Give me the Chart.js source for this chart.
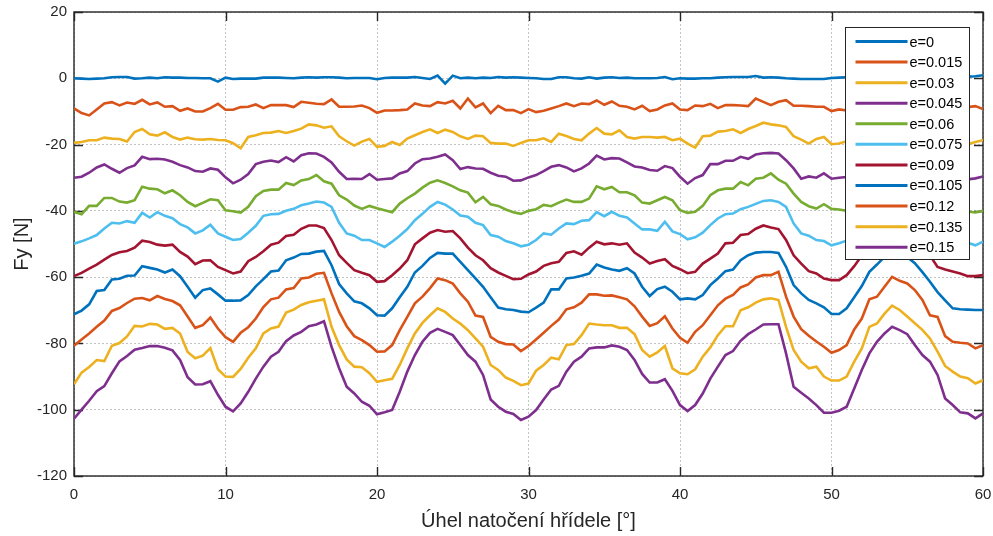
<!DOCTYPE html>
<html>
<head>
<meta charset="utf-8">
<script src="https://cdn.jsdelivr.net/npm/chart.js@4.4.1/dist/chart.umd.min.js"></script>
<style>
html, body { margin: 0; padding: 0; background: #fff; }
</style>
</head>
<body>
<canvas id="fyChart" width="993" height="536"></canvas>
<script>
// shaft angle [deg], one sample every 0.5 deg
var angles = [0,0.5,1,1.5,2,2.5,3,3.5,4,4.5,5,5.5,6,6.5,7,7.5,8,8.5,9,9.5,10,10.5,11,11.5,12,12.5,13,13.5,14,14.5,15,15.5,
  16,16.5,17,17.5,18,18.5,19,19.5,20,20.5,21,21.5,22,22.5,23,23.5,24,24.5,25,25.5,26,26.5,27,27.5,28,28.5,29,29.5,30,
  30.5,31,31.5,32,32.5,33,33.5,34,34.5,35,35.5,36,36.5,37,37.5,38,38.5,39,39.5,40,40.5,41,41.5,42,42.5,43,43.5,44,44.5,45,45.5,
  46,46.5,47,47.5,48,48.5,49,49.5,50,50.5,51,51.5,52,52.5,53,53.5,54,54.5,55,55.5,56,56.5,57,57.5,58,58.5,59,59.5,60];

var fy_e0 = [0,-0.1,-0.2,-0.1,0,0.3,0.4,0.4,-0.1,0,0.2,0,0.3,0.2,0.2,0.1,0.1,0,0,-1.0,0.2,-0.2,-0.1,-0.1,-0.1,0.2,0.2,0.2,0.1,0,0.2,0.3,
  0.2,0.3,0.3,0.2,0,0.1,0.1,0.1,-0.3,0.1,0.2,0.2,0.2,0.4,0.1,-0.2,0.8,-1.6,0.8,0,0.2,0,0.2,0.1,0.4,0.2,0.3,0.2,0.1,
  0,-0.2,-0.2,0.3,0.3,0,-0.1,0.3,-0.1,0.2,0.3,0.1,0.2,0,0,0,0.1,0.4,-0.3,0,-0.1,-0.1,0,0,0.2,0.3,0.4,0.4,0.4,0.7,0.2,
  0.3,0.2,0,-0.1,-0.2,-0.2,-0.2,-0.2,0.1,0.2,0.3,0.2,0.3,0.5,0.2,0,0.6,0.4,0.7,0.2,0.3,0.2,0.3,0.2,0.4,0.3,0.5,0.6,0.9];
var fy_e015 = [-9.1,-10.5,-11.2,-9.4,-7.6,-7.2,-8.2,-7.3,-7.7,-6.5,-7.9,-7.3,-8.6,-8.4,-9.8,-9.1,-10.0,-10.0,-9.0,-7.7,-9.5,-9.5,-8.7,-8.6,-7.9,-9.0,-8.1,-8.1,-8.1,-8.7,-7.1,-7.4,
  -7.7,-7.8,-6.4,-8.6,-8.6,-8.5,-8.2,-9.0,-10.4,-9.7,-9.7,-9.6,-9.4,-7.6,-8.2,-8.4,-7.2,-7.6,-6.8,-9.1,-6.1,-8.8,-7.6,-10.5,-8.3,-9.6,-9.6,-10.5,-9.3,
  -10.2,-9.8,-9.1,-8.4,-7.6,-8.4,-7.6,-7.8,-6.7,-8.0,-7.0,-8.3,-8.6,-9.4,-8.3,-9.9,-9.4,-8.2,-7.6,-9.4,-9.6,-8.2,-8.4,-7.7,-9.0,-8.1,-8.1,-8.2,-8.4,-6.1,-7.1,
  -8.1,-7.1,-6.6,-8.3,-8.3,-8.4,-8.6,-8.6,-9.9,-9.4,-9.7,-9.5,-9.2,-8.0,-8.3,-8.1,-7.5,-7.9,-7.2,-8.6,-7.0,-8.5,-8.0,-9.4,-8.6,-9.2,-8.7,-8.4,-9.3];
var fy_e03 = [-19.5,-19.2,-18.7,-18.7,-17.9,-18.2,-18.3,-19.1,-16.2,-15.3,-16.9,-17.3,-16.3,-17.7,-18.5,-17.9,-18.4,-18.5,-18.3,-18.6,-18.7,-19.6,-21.1,-17.7,-17.2,-16.5,-16.4,-15.9,-16.5,-15.9,-15.2,-13.9,
  -14.2,-14.9,-14.5,-17.5,-19.0,-20.3,-19.1,-18.3,-20.7,-20.4,-19.2,-20.1,-18.2,-17.2,-16.2,-15.4,-16.5,-15.5,-16.2,-17.5,-18.3,-17.3,-17.5,-19.5,-19.7,-19.7,-20.4,-19.5,-18.7,
  -18.7,-18.1,-19.2,-16.7,-17.4,-18.3,-18.7,-16.7,-15.0,-16.7,-16.9,-15.7,-17.7,-18.2,-17.7,-17.7,-17.9,-17.7,-18.7,-18.2,-19.7,-20.9,-17.5,-17.3,-16.1,-15.9,-15.4,-16.5,-15.3,-14.4,-13.4,
  -13.9,-14.2,-14.7,-17.5,-18.5,-19.7,-18.3,-17.7,-19.9,-19.7,-19.0,-19.6,-18.5,-17.6,-16.5,-15.6,-16.2,-15.8,-16.4,-17.2,-18.0,-17.5,-17.8,-19.2,-19.5,-19.8,-19.9,-19.2,-18.7];
var fy_e045 = [-30.0,-29.7,-28.5,-26.9,-26.0,-27.3,-28.5,-27.1,-26.3,-23.7,-24.4,-24.3,-24.5,-25.2,-26.2,-26.9,-28.0,-28.2,-27.2,-27.6,-29.9,-31.7,-30.6,-28.9,-25.9,-25.2,-24.8,-25.3,-23.8,-25.1,-23.2,-22.6,
  -22.7,-23.7,-25.4,-28.2,-30.4,-30.3,-30.4,-28.9,-30.6,-30.4,-30.2,-28.7,-28.0,-25.7,-24.4,-24.2,-23.7,-23.0,-24.7,-27.4,-26.8,-27.2,-27.3,-28.5,-29.4,-29.7,-30.9,-30.8,-29.9,
  -29.2,-28.0,-26.7,-26.2,-26.9,-28.1,-27.2,-25.7,-23.3,-24.5,-24.1,-24.2,-25.4,-26.6,-26.9,-27.7,-27.9,-26.5,-27.1,-29.7,-31.8,-30.1,-29.2,-25.9,-25.9,-24.9,-24.9,-23.7,-24.3,-23.0,-22.6,
  -22.5,-22.7,-24.7,-27.2,-30.3,-29.6,-30.0,-28.7,-30.3,-30.0,-29.8,-28.9,-28.2,-26.0,-24.6,-24.0,-23.5,-23.2,-24.9,-27.0,-27.0,-27.4,-27.6,-28.6,-29.2,-29.8,-30.5,-30.2,-29.6];
var fy_e06 = [-40.3,-41.0,-38.5,-38.5,-36.1,-36.1,-37.2,-37.5,-36.8,-32.7,-33.3,-33.5,-34.7,-33.8,-35.3,-37.3,-38.6,-37.6,-36.5,-36.8,-39.8,-40.1,-40.5,-38.8,-35.6,-34.0,-33.6,-33.6,-31.6,-32.2,-30.8,-30.4,
  -29.2,-31.1,-31.8,-35.3,-36.6,-38.4,-39.4,-38.5,-39.2,-39.8,-40.4,-37.8,-36.2,-34.8,-33.0,-31.5,-30.8,-31.6,-32.6,-33.8,-34.5,-37.4,-35.8,-38.0,-38.5,-39.6,-40.4,-40.9,-40.0,
  -39.5,-38.2,-38.6,-37.5,-36.6,-37.3,-37.3,-36.3,-32.6,-33.5,-32.8,-34.4,-34.4,-35.3,-37.5,-37.8,-36.8,-35.8,-36.8,-39.8,-40.6,-40.3,-38.5,-35.3,-33.8,-33.3,-33.3,-31.3,-32.3,-30.3,-30.0,
  -28.7,-30.6,-31.8,-34.8,-37.3,-38.6,-39.3,-38.0,-39.4,-39.6,-40.0,-38.0,-36.4,-35.0,-33.2,-31.8,-31.0,-31.8,-32.8,-33.9,-34.6,-36.8,-36.2,-38.0,-38.6,-39.5,-40.2,-40.5,-40.0];
var fy_e075 = [-49.9,-49.2,-48.3,-47.3,-45.3,-43.6,-43.8,-43.1,-43.6,-40.6,-42.0,-40.4,-41.5,-42.2,-44.0,-45.0,-46.8,-45.9,-44.2,-46.8,-47.8,-48.8,-48.5,-46.6,-44.5,-41.5,-41.0,-40.9,-40.0,-39.4,-38.3,-37.8,
  -37.2,-37.5,-38.8,-43.6,-46.8,-47.5,-48.8,-48.8,-49.8,-50.9,-49.3,-47.5,-45.5,-42.8,-40.9,-38.8,-37.3,-38.1,-39.6,-41.4,-41.8,-43.6,-44.3,-47.3,-47.8,-49.1,-49.8,-50.7,-50.2,
  -48.8,-46.8,-47.2,-45.3,-43.8,-44.0,-43.0,-42.8,-40.4,-41.6,-40.3,-41.5,-42.0,-43.8,-45.6,-45.6,-46.0,-43.3,-46.2,-47.0,-48.6,-48.0,-46.6,-44.3,-42.3,-41.0,-40.8,-39.5,-38.8,-37.9,-37.0,
  -36.8,-37.3,-38.8,-43.8,-46.8,-47.5,-48.8,-49.1,-50.4,-49.8,-49.0,-47.6,-45.4,-43.0,-41.0,-39.0,-37.6,-38.3,-39.8,-41.2,-42.0,-43.4,-44.5,-47.0,-47.9,-49.0,-49.6,-50.4,-49.3];
var fy_e09 = [-59.7,-58.7,-57.4,-56.2,-54.7,-53.3,-52.5,-52.1,-51.1,-49.0,-49.4,-50.2,-50.5,-50.2,-52.4,-53.8,-56.1,-55.0,-54.9,-56.9,-57.9,-58.9,-58.3,-55.2,-53.9,-52.2,-50.2,-49.6,-47.6,-47.2,-45.4,-44.4,
  -44.4,-45.2,-48.8,-53.4,-55.7,-57.9,-58.7,-59.4,-61.4,-61.2,-59.4,-57.4,-54.9,-50.1,-48.3,-46.6,-45.8,-46.3,-46.1,-48.3,-51.1,-53.4,-54.9,-57.3,-58.6,-59.6,-60.6,-60.5,-59.2,
  -58.3,-56.6,-55.8,-55.4,-52.7,-52.2,-53.2,-51.1,-49.3,-50.1,-49.8,-50.2,-49.8,-52.6,-54.1,-55.9,-55.1,-54.6,-56.6,-57.6,-58.8,-58.4,-55.9,-54.4,-52.9,-49.8,-49.6,-47.3,-47.0,-45.4,-44.4,
  -45.0,-45.5,-48.8,-53.4,-55.9,-58.2,-58.9,-60.4,-60.9,-60.9,-59.4,-56.7,-53.5,-50.0,-48.0,-46.8,-46.0,-46.4,-46.6,-48.5,-51.0,-53.5,-56.9,-57.7,-58.3,-58.9,-59.7,-59.7,-59.4];
var fy_e105 = [-71.2,-70.1,-68.2,-64.2,-63.9,-60.7,-60.5,-59.6,-59.5,-56.7,-57.2,-57.7,-58.6,-57.7,-59.7,-62.9,-66.2,-63.9,-63.4,-65.2,-67.1,-67.1,-67.0,-65.4,-62.8,-60.6,-58.3,-58.0,-54.9,-54.1,-53.0,-52.9,
  -52.3,-52.1,-56.4,-62.1,-64.9,-67.3,-67.9,-69.4,-71.5,-71.6,-69.4,-66.1,-62.9,-58.6,-56.6,-54.2,-52.7,-52.9,-52.9,-55.4,-57.9,-60.4,-62.9,-66.1,-69.2,-69.7,-69.9,-70.4,-70.6,
  -69.2,-67.7,-63.7,-63.7,-60.4,-60.1,-59.6,-58.9,-56.2,-57.1,-57.7,-58.1,-57.3,-58.9,-62.9,-65.7,-63.6,-62.9,-64.4,-66.7,-66.4,-66.7,-65.4,-62.4,-60.4,-58.2,-57.7,-54.9,-53.4,-52.6,-52.4,
  -52.4,-52.7,-56.9,-62.4,-64.9,-66.9,-67.9,-69.1,-71.1,-71.1,-69.4,-66.1,-62.7,-58.4,-56.2,-53.9,-52.1,-52.4,-53.9,-55.8,-58.5,-61.4,-64.5,-67.0,-69.4,-69.7,-69.8,-69.9,-69.9];
var fy_e12 = [-80.7,-78.8,-77.0,-75.0,-73.1,-70.2,-69.3,-67.8,-66.5,-66.3,-67.0,-65.7,-66.6,-67.2,-68.5,-71.9,-75.3,-74.5,-72.2,-75.5,-78.1,-79.5,-76.8,-75.1,-72.5,-69.0,-66.7,-66.2,-63.7,-63.3,-60.4,-60.1,
  -59.0,-58.7,-64.9,-70.5,-74.8,-77.8,-79.0,-80.5,-82.5,-82.4,-80.5,-76.0,-72.0,-67.9,-65.9,-63.3,-60.4,-60.9,-61.9,-64.9,-67.4,-71.6,-72.0,-78.0,-79.5,-80.2,-80.3,-82.3,-80.8,
  -78.8,-76.8,-74.7,-72.8,-69.7,-69.1,-67.7,-65.2,-65.2,-65.6,-65.5,-66.1,-66.7,-68.8,-71.9,-74.7,-73.9,-71.8,-75.5,-78.3,-79.8,-76.5,-74.5,-71.5,-68.5,-66.5,-65.4,-63.1,-62.2,-60.1,-59.4,
  -59.4,-58.4,-65.9,-71.9,-75.7,-77.7,-79.4,-81.0,-82.8,-82.0,-80.5,-75.8,-72.5,-66.7,-65.9,-62.9,-59.9,-61.1,-61.9,-63.9,-66.9,-71.5,-72.0,-77.8,-79.5,-79.8,-80.0,-81.5,-80.5];
var fy_e135 = [-92.3,-88.8,-87.1,-85.0,-85.3,-80.7,-79.9,-77.9,-74.7,-74.9,-74.1,-74.3,-75.6,-75.3,-77.0,-82.6,-84.5,-83.7,-81.4,-87.8,-90.0,-90.1,-87.7,-84.3,-81.5,-77.0,-75.5,-74.9,-70.7,-69.8,-68.4,-67.6,
  -67.1,-66.7,-75.0,-80.5,-84.8,-87.0,-87.2,-89.0,-91.6,-91.1,-90.7,-86.5,-81.5,-77.0,-73.8,-71.5,-69.4,-70.5,-72.5,-74.0,-76.0,-78.5,-81.0,-86.5,-88.0,-90.3,-91.3,-92.6,-92.1,
  -88.2,-86.5,-84.3,-84.8,-80.5,-80.2,-77.5,-74.0,-74.3,-74.5,-74.5,-75.3,-75.3,-77.2,-82.0,-84.0,-82.7,-80.8,-87.5,-89.0,-89.3,-87.8,-84.0,-81.2,-77.5,-74.8,-74.8,-70.0,-69.1,-67.7,-66.7,
  -66.4,-66.9,-75.0,-82.0,-85.5,-87.5,-87.0,-90.0,-91.2,-91.2,-90.0,-85.5,-81.5,-75.0,-74.0,-71.0,-68.6,-69.9,-71.9,-73.9,-75.9,-78.5,-82.5,-86.8,-88.5,-90.0,-90.5,-92.1,-91.1];
var fy_e15 = [-102.7,-100.0,-97.3,-94.4,-92.9,-89.0,-85.4,-83.8,-81.9,-81.4,-80.8,-80.8,-81.3,-82.1,-85.0,-90.2,-92.4,-92.3,-91.4,-95.5,-99.1,-100.5,-98.1,-94.6,-90.6,-87.0,-84.0,-82.5,-79.3,-77.6,-76.5,-74.8,
  -74.3,-73.3,-81.0,-87.5,-93.1,-95.1,-97.6,-98.8,-101.4,-100.8,-100.1,-94.6,-88.5,-83.5,-79.5,-76.8,-75.6,-76.5,-77.5,-80.5,-83.5,-85.5,-89.5,-96.9,-99.1,-100.6,-101.3,-103.1,-102.1,
  -100.1,-96.9,-93.9,-92.8,-88.5,-85.5,-84.0,-81.5,-81.2,-81.2,-80.6,-81.0,-82.0,-85.0,-89.2,-91.8,-91.8,-90.8,-94.3,-98.6,-100.4,-98.6,-95.1,-90.6,-87.0,-83.5,-82.3,-79.2,-77.2,-75.8,-74.3,
  -74.2,-74.2,-83.0,-93.1,-94.9,-96.6,-98.6,-100.9,-100.9,-100.3,-99.1,-93.6,-88.0,-83.0,-79.5,-77.0,-75.0,-76.0,-77.2,-80.5,-83.5,-85.5,-89.5,-96.6,-98.6,-100.8,-101.1,-102.6,-101.1];

var seriesLabels = ["e=0", "e=0.015", "e=0.03", "e=0.045", "e=0.06", "e=0.075", "e=0.09", "e=0.105", "e=0.12", "e=0.135", "e=0.15"];
var seriesValues = [fy_e0, fy_e015, fy_e03, fy_e045, fy_e06, fy_e075, fy_e09, fy_e105, fy_e12, fy_e135, fy_e15];
// matlab default color order, repeats after 7
var seriesColors = ["#0072BD", "#D95319", "#EDB120", "#7E2F8E", "#77AC30", "#4DBEEE", "#A2142F",
  "#0072BD", "#D95319", "#EDB120", "#7E2F8E"];

var fontFamily = '"Liberation Sans", Arial, Helvetica, sans-serif';
var axisColor = "#262626";

var datasets = [];
for (let i = 0; i < seriesValues.length; i++) {
  datasets.push({
    label: seriesLabels[i],
    data: seriesValues[i].map(function(v, j) { return { x: angles[j], y: v }; }),
    borderColor: seriesColors[i],
    backgroundColor: seriesColors[i],
    borderWidth: 2.6,
    pointRadius: 0,
    tension: 0,
    fill: false,
    order: seriesValues.length - i
  });
}

// box around axes with inward ticks on all four sides
var boxPlugin = {
  id: "matlabBox",
  beforeDatasetsDraw: function(chart) {
    var a = chart.chartArea, ctx = chart.ctx;
    var xs = chart.scales.x, ys = chart.scales.y;
    ctx.save();
    ctx.strokeStyle = axisColor;
    ctx.lineWidth = 1.4;
    ctx.beginPath();
    xs.ticks.forEach(function(t) {
      var px = Math.round(xs.getPixelForValue(t.value)) + 0.5;
      ctx.moveTo(px, a.bottom); ctx.lineTo(px, a.bottom - 9);
      ctx.moveTo(px, a.top); ctx.lineTo(px, a.top + 9);
    });
    ys.ticks.forEach(function(t) {
      var py = Math.round(ys.getPixelForValue(t.value)) + 0.5;
      ctx.moveTo(a.left, py); ctx.lineTo(a.left + 9, py);
      ctx.moveTo(a.right, py); ctx.lineTo(a.right - 9, py);
    });
    ctx.stroke();
    ctx.strokeRect(a.left, a.top, a.right - a.left, a.bottom - a.top);
    ctx.restore();
  }
};

// legend box in the upper right corner of the axes
var legendPlugin = {
  id: "innerLegend",
  afterDraw: function(chart) {
    var a = chart.chartArea, ctx = chart.ctx;
    var sets = chart.data.datasets;
    var w = 124, h = 232, rowH = 20.57;
    var left = Math.round(a.right - 14 - w) + 0.5, top = Math.round(a.top + 15) + 0.5;
    ctx.save();
    ctx.fillStyle = "#fff";
    ctx.fillRect(left, top, w, h);
    ctx.strokeStyle = axisColor;
    ctx.lineWidth = 1;
    ctx.strokeRect(left, top, w, h);
    ctx.font = "14.5px " + fontFamily;
    ctx.textBaseline = "middle";
    ctx.textAlign = "left";
    sets.forEach(function(ds, i) {
      var cy = top + 14 + i * rowH;
      ctx.strokeStyle = ds.borderColor;
      ctx.lineWidth = 3;
      ctx.beginPath();
      ctx.moveTo(left + 10, cy);
      ctx.lineTo(left + 62, cy);
      ctx.stroke();
      ctx.fillStyle = "#000";
      ctx.fillText(ds.label, left + 64, cy + 1);
    });
    ctx.restore();
  }
};

new Chart(document.getElementById("fyChart"), {
  type: "line",
  data: { datasets: datasets },
  options: {
    responsive: false,
    animation: false,
    layout: { padding: { top: 12, right: 10, left: 0, bottom: 0 } },
    plugins: {
      legend: { display: false },
      tooltip: { enabled: false }
    },
    scales: {
      x: {
        type: "linear",
        min: 0,
        max: 60,
        ticks: { stepSize: 10, color: axisColor, padding: 10, maxRotation: 0, font: { family: fontFamily, size: 15 } },
        grid: { color: "rgba(38,38,38,0.28)", lineWidth: 1, drawTicks: false },
        border: { display: false, dash: [2, 2] },
        title: { display: true, text: "Úhel natočení hřídele [°]", color: axisColor,
                 font: { family: fontFamily, size: 20 }, padding: { top: 0, bottom: 3 } },
        afterFit: function(s) { s.height = 60; s.paddingLeft = 0; s.paddingRight = 0; }
      },
      y: {
        type: "linear",
        min: -120,
        max: 20,
        ticks: { stepSize: 20, color: axisColor, padding: 7, font: { family: fontFamily, size: 15 } },
        grid: { color: "rgba(38,38,38,0.28)", lineWidth: 1, drawTicks: false },
        border: { display: false, dash: [2, 2] },
        title: { display: true, text: "Fy [N]", color: axisColor,
                 font: { family: fontFamily, size: 20 }, padding: { top: 10, bottom: 0 } },
        afterFit: function(s) { s.width = 74; s.paddingTop = 0; s.paddingBottom = 0; }
      }
    }
  },
  plugins: [boxPlugin, legendPlugin]
});
</script>
</body>
</html>
